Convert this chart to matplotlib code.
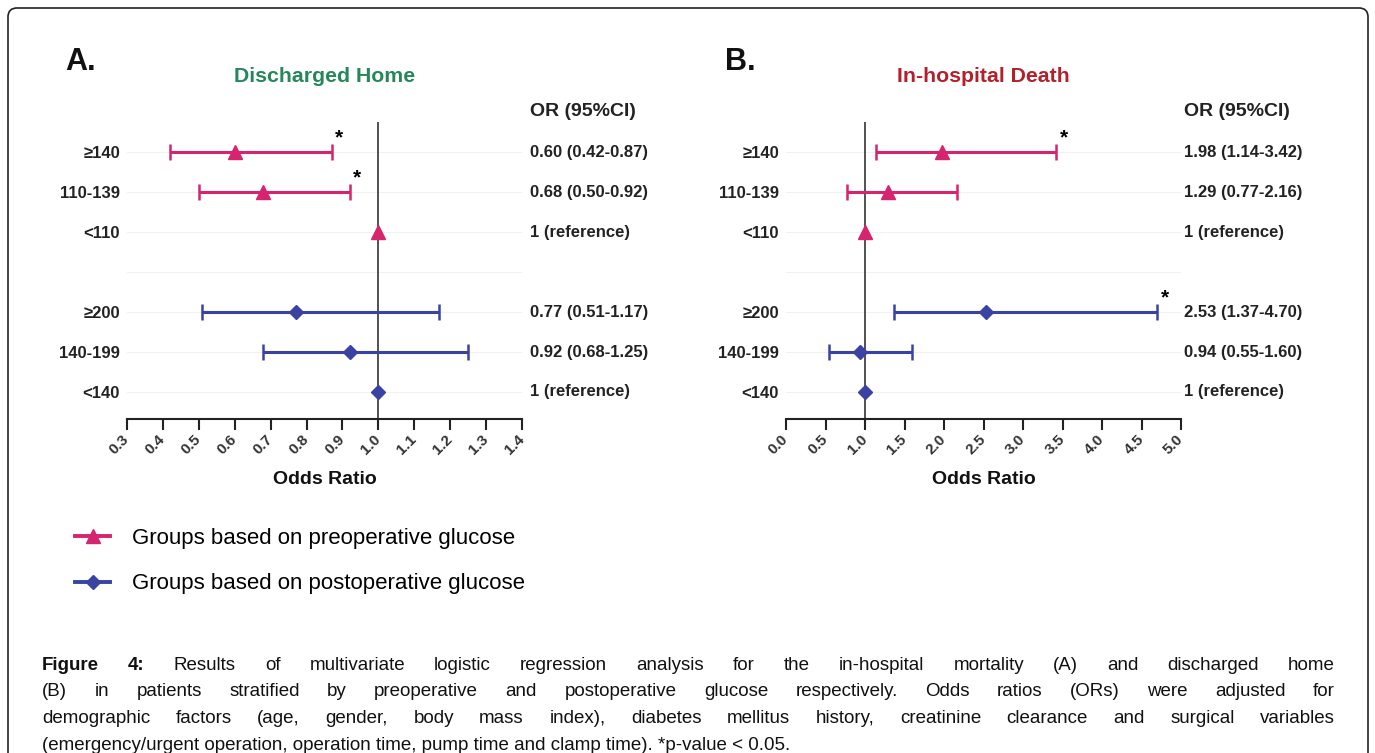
import matplotlib
matplotlib.use('Agg')

import numpy as np
from matplotlib import pyplot as plt
from matplotlib.lines import Line2D
from matplotlib.patches import FancyBboxPatch
from matplotlib import font_manager

plt.rcParams['font.family'] = ['Liberation Sans', 'DejaVu Sans']

# rows of each glucose grouping (top to bottom)
pre_labels = ['≥140', '110-139', '<110']
post_labels = ['≥200', '140-199', '<140']

# A. Discharged home
dh_pre_or = [0.60, 0.68, 1.00]
dh_pre_lo = [0.42, 0.50, np.nan]
dh_pre_hi = [0.87, 0.92, np.nan]
dh_pre_sig = [True, True, False]
dh_post_or = [0.77, 0.92, 1.00]
dh_post_lo = [0.51, 0.68, np.nan]
dh_post_hi = [1.17, 1.25, np.nan]
dh_post_sig = [False, False, False]

# B. In-hospital death
hd_pre_or = [1.98, 1.29, 1.00]
hd_pre_lo = [1.14, 0.77, np.nan]
hd_pre_hi = [3.42, 2.16, np.nan]
hd_pre_sig = [True, False, False]
hd_post_or = [2.53, 0.94, 1.00]
hd_post_lo = [1.37, 0.55, np.nan]
hd_post_hi = [4.70, 1.60, np.nan]
hd_post_sig = [True, False, False]

dh_ticks = np.round(np.arange(0.3, 1.41, 0.1), 1)
hd_ticks = np.round(np.arange(0.0, 5.01, 0.5), 1)

legend_labels = ['Groups based on preoperative glucose',
                 'Groups based on postoperative glucose']

caption = [
    'Figure 4: Results of multivariate logistic regression analysis for the in-hospital mortality (A) and discharged home',
    '(B) in patients stratified by preoperative and postoperative glucose respectively. Odds ratios (ORs) were adjusted for',
    'demographic factors (age, gender, body mass index), diabetes mellitus history, creatinine clearance and surgical variables',
    '(emergency/urgent operation, operation time, pump time and clamp time). *p-value < 0.05.',
]

PINK = '#d6246e'
BLUE = '#3a43a3'
W, H = 1375, 753

# narrow face for the caption if it is there
names = {f.name for f in font_manager.fontManager.ttflist}
cap_family = 'Liberation Sans Narrow' if 'Liberation Sans Narrow' in names else 'Liberation Sans'
cap_fs = 16 if cap_family == 'Liberation Sans Narrow' else 13.5


def fx(x):
    return x / W


def fy(y):
    return 1 - y / H


fig = plt.figure(figsize=(W / 100, H / 100), dpi=100)

# rounded frame around the whole figure
fig.add_artist(FancyBboxPatch((fx(8), fy(765)), fx(1368 - 8), (765 - 8) / H,
                              boxstyle='round,pad=0,rounding_size=%f' % (9 / W),
                              mutation_aspect=W / H, transform=fig.transFigure,
                              fill=False, edgecolor='#222222', lw=1.2))


def forest(left, right, letter, title, tcolor, ticks, groups, or_pad):
    top, bottom = 122, 419
    ax = fig.add_axes([fx(left), fy(bottom), (right - left) / W, (bottom - top) / H])
    ax.axvline(1.0, color='#333333', lw=1.2, zorder=1)
    labels = []
    for g, (lab, orv, lo, hi, sig, col, mk, ms) in enumerate(groups):
        for i in range(len(orv)):
            row = g * 4 + i
            if not np.isnan(lo[i]):
                ax.errorbar(orv[i], row, xerr=[[orv[i] - lo[i]], [hi[i] - orv[i]]],
                            fmt='none', ecolor=col, elinewidth=2.2, capsize=6,
                            capthick=1.8, zorder=3)
                txt = '%.2f (%.2f-%.2f)' % (orv[i], lo[i], hi[i])
            else:
                txt = '1 (reference)'
            ax.plot(orv[i], row, marker=mk, color=col, ms=ms, zorder=4)
            if sig[i]:
                ax.annotate('*', xy=(hi[i], row), xytext=(5.5, 10),
                            textcoords='offset points', ha='center', va='center',
                            fontsize=15, fontweight='bold')
            ax.annotate(txt, xy=(1, row), xycoords=ax.get_yaxis_transform(),
                        xytext=(or_pad, 0), textcoords='offset points',
                        ha='left', va='center', fontsize=12, fontweight='bold',
                        color='#222222', annotation_clip=False)
        labels += list(lab) + ['']
    ax.annotate('OR (95%CI)', xy=(1, -1), xycoords=ax.get_yaxis_transform(),
                xytext=(or_pad, 0), textcoords='offset points', ha='left',
                va='center', fontsize=14, fontweight='bold', color='#222222',
                annotation_clip=False)

    ax.set_xlim(ticks[0], ticks[-1])
    ax.set_ylim(6.675, -0.75)
    ax.set_yticks(range(7))
    ax.set_yticklabels(labels[:7], fontsize=12, fontweight='bold', color='#222222')
    ax.tick_params(axis='y', length=0, pad=5)
    ax.grid(axis='y', color='#f1f1f1', lw=0.8)
    ax.set_axisbelow(True)
    ax.set_xticks(ticks)
    ax.set_xticklabels(['%.1f' % t for t in ticks], rotation=45, ha='right',
                       rotation_mode='anchor', va='center', fontsize=11,
                       fontweight='bold', color='#333333')
    ax.tick_params(axis='x', direction='out', length=8, width=1.5, pad=5,
                   color='#222222')
    for s in ['left', 'top', 'right']:
        ax.spines[s].set_visible(False)
    ax.spines['bottom'].set_linewidth(1.5)
    ax.spines['bottom'].set_color('#222222')

    cx = (left + right) / 2
    fig.text(fx(cx), fy(76), title, ha='center', va='center', fontsize=15.3,
             fontweight='bold', color=tcolor)
    fig.text(fx(cx), fy(480), 'Odds Ratio', ha='center', va='center',
             fontsize=14, fontweight='bold', color='#111111')
    fig.text(fx(left - 46), fy(62), letter, ha='center', va='center',
             fontsize=22, fontweight='bold', color='#111111')
    return ax


forest(127, 522, 'A.', 'Discharged Home', '#26875a', dh_ticks,
       [(pre_labels, dh_pre_or, dh_pre_lo, dh_pre_hi, dh_pre_sig, PINK, '^', 9.5),
        (post_labels, dh_post_or, dh_post_lo, dh_post_hi, dh_post_sig, BLUE, 'D', 7)],
       6)
forest(786, 1181, 'B.', 'In-hospital Death', '#b2202c', hd_ticks,
       [(pre_labels, hd_pre_or, hd_pre_lo, hd_pre_hi, hd_pre_sig, PINK, '^', 9.5),
        (post_labels, hd_post_or, hd_post_lo, hd_post_hi, hd_post_sig, BLUE, 'D', 7)],
       2)

handles = [Line2D([], [], color=PINK, marker='^', ms=10, lw=2.8),
           Line2D([], [], color=BLUE, marker='D', ms=7.5, lw=2.8)]
fig.legend(handles, legend_labels, loc='center left',
           bbox_to_anchor=(fx(75), fy(561)), frameon=False, fontsize=16,
           handlelength=1.58, handletextpad=1.0, labelspacing=1.12, borderpad=0,
           borderaxespad=0)

# justified caption
renderer = fig.canvas.get_renderer()
x0, x1 = 42, 1335
for n, line in enumerate(caption):
    y = fy(665 + n * 26.9)
    if n == len(caption) - 1:
        fig.text(fx(x0), y, line, fontsize=cap_fs, va='center', color='#111111',
                 family=[cap_family, 'DejaVu Sans'])
        continue
    words = line.split(' ')
    arts = []
    for i, w in enumerate(words):
        bold = n == 0 and i < 2
        arts.append(fig.text(0, y, w, fontsize=cap_fs, va='center', color='#111111',
                             family=[cap_family, 'DejaVu Sans'],
                             fontweight='bold' if bold else 'normal'))
    widths = [t.get_window_extent(renderer).width for t in arts]
    gap = (x1 - x0 - sum(widths)) / (len(words) - 1)
    x = x0
    for t, w in zip(arts, widths):
        t.set_x(fx(x))
        x += w + gap

plt.savefig('out.png', dpi=100)
